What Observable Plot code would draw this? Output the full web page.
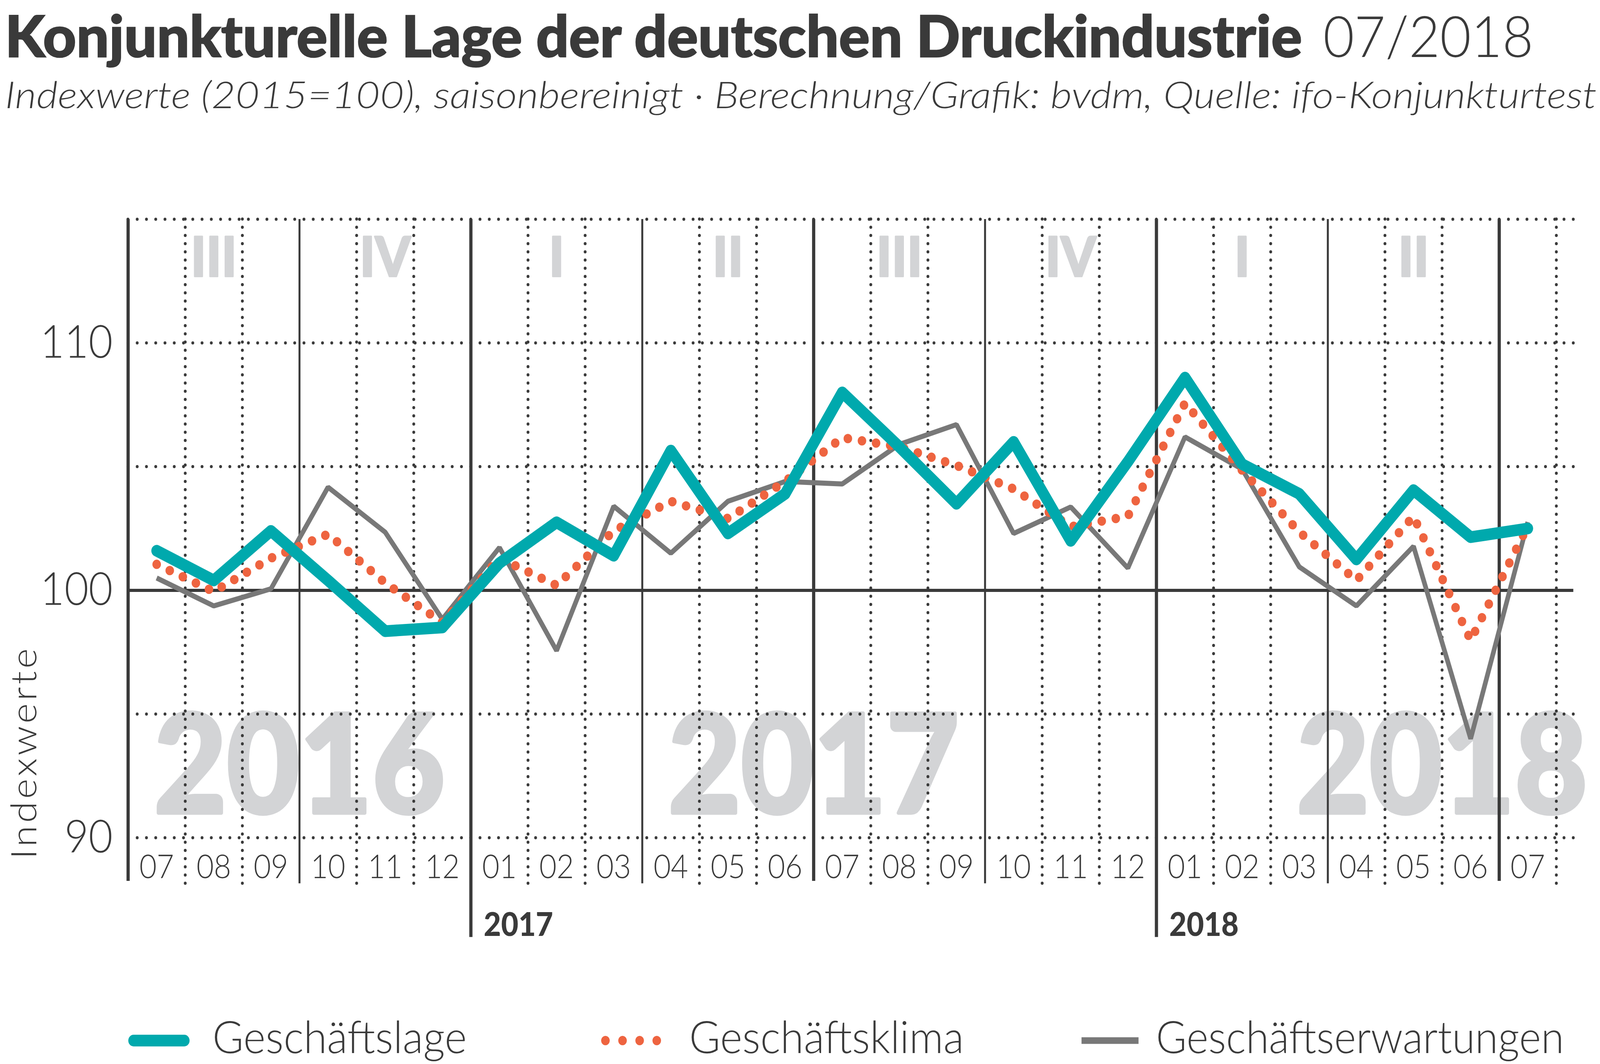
<!DOCTYPE html>
<html>
<head>
<meta charset="utf-8">
<script src="https://cdn.jsdelivr.net/npm/d3@7"></script>
<script src="https://cdn.jsdelivr.net/npm/@observablehq/plot@0.6"></script>
<style>
  html, body { margin: 0; padding: 0; background: #fff; overflow: hidden; }
  body { font-family: Lato, "Open Sans", sans-serif; }
  #page { position: absolute; left: 0; top: 0; width: 4490px; height: 2725px; transform-origin: 0 0; background: #fff; }
  .layer { position: absolute; left: 0; }
</style>
</head>
<body>
<div id="page"></div>
<script>
// ---------- data ----------
const titleText = "Konjunkturelle Lage der deutschen Druckindustrie";
const dateText = "07/2018";
const subtitleText = "Indexwerte (2015=100), saisonbereinigt · Berechnung/Grafik: bvdm, Quelle: ifo-Konjunkturtest";
const yLabel = "Indexwerte";

const months = ["07","08","09","10","11","12","01","02","03","04","05","06","07","08","09","10","11","12","01","02","03","04","05","06","07"];
const years  = [2016,2016,2016,2016,2016,2016,2017,2017,2017,2017,2017,2017,2017,2017,2017,2017,2017,2017,2018,2018,2018,2018,2018,2018,2018];

const geschaeftslage = [101.6, 100.4, 102.4, 100.4, 98.35, 98.5, 101.1, 102.75, 101.4, 105.65, 102.3, 103.9, 108.0, 105.8, 103.5, 106.0, 102.0, 105.2, 108.6, 105.1, 103.9, 101.25, 104.05, 102.15, 102.5];
const geschaeftsklima = [101.05, 99.95, 101.3, 102.27, 100.3, 98.7, 101.3, 100.2, 102.4, 103.6, 102.9, 104.4, 106.17, 105.8, 105.05, 104.1, 102.57, 102.99, 107.57, 104.85, 102.36, 100.4, 102.99, 97.98, 102.6];
const geschaeftserwartungen = [100.5, 99.37, 100.06, 104.17, 102.35, 98.83, 101.73, 97.56, 103.4, 101.5, 103.6, 104.4, 104.3, 105.9, 106.7, 102.3, 103.37, 100.9, 106.2, 104.9, 100.95, 99.37, 101.78, 94.0, 102.76];

const quarterLabels = ["III","IV","I","II","III","IV","I","II"];
const bigYearLabels = ["2016","2017","2018"];
const bigYearCenters = [3, 12, 23];   // in month units
const yTicks = [90, 100, 110];
const yGrid = [90, 95, 105, 110, 115];

const seriesNames = ["Geschäftslage", "Geschäftsklima", "Geschäftserwartungen"];

// ---------- styles ----------
const ink = "#3a3a3a";
const teal = "#00a9ad";
const orange = "#ee6440";
const grey = "#787878";
const pale = "#d3d4d6";

// ---------- derived table ----------
const rows = months.map((m, i) => ({
  i, x: i + 0.5, m, year: years[i],
  lage: geschaeftslage[i], klima: geschaeftsklima[i], erw: geschaeftserwartungen[i]
}));
const n = rows.length;
const bounds = d3.range(0, n + 1);
const solidBounds = bounds.filter(k => k % 3 === 0 && k < n);
const thinSolid = solidBounds.filter(k => k % 6 !== 0);
const thickSolid = solidBounds.filter(k => k % 6 === 0 && !(k > 0 && rows[k] && rows[k].m === "01"));
const yearBounds = rows.filter(d => d.m === "01").map(d => ({x: d.i, year: String(d.year)}));
const dottedBounds = bounds.filter(k => k % 3 !== 0);

const page = d3.select("#page");

// ---------- header ----------
const header = page.append("svg")
  .attr("class", "layer").style("top", "0px")
  .attr("width", 4490).attr("height", 480)
  .attr("font-family", "Lato, sans-serif");
header.append("text").attr("x", 14).attr("y", 146)
  .attr("font-size", 146).attr("font-weight", 900).attr("fill", ink)
  .attr("stroke", ink).attr("stroke-width", 2.5)
  .attr("textLength", 3640).attr("lengthAdjust", "spacingAndGlyphs")
  .text(titleText);
header.append("text").attr("x", 3713).attr("y", 146)
  .attr("font-size", 146).attr("font-weight", 300).attr("fill", ink)
  .attr("textLength", 590).attr("lengthAdjust", "spacingAndGlyphs")
  .text(dateText);
header.append("text").attr("x", 14).attr("y", 277)
  .attr("font-size", 95).attr("font-weight", 300).attr("font-style", "italic").attr("fill", ink)
  .attr("textLength", 4467).attr("lengthAdjust", "spacingAndGlyphs")
  .text(subtitleText);

// ---------- chart ----------
const chart = Plot.plot({
  width: 4490,
  height: 1970,
  marginLeft: 359,
  marginRight: 123,
  marginTop: 81,
  marginBottom: 305,
  style: {fontFamily: "Lato, sans-serif", background: "transparent", color: ink, maxWidth: "none"},
  x: {type: "linear", domain: [0, n], axis: null},
  y: {type: "linear", domain: [90, 115], axis: null},
  marks: [
    Plot.text(bigYearLabels, {x: (d, i) => bigYearCenters[i], y: 91, text: d => d, lineAnchor: "bottom",
      fontSize: 352, fontWeight: 900, fill: pale, stroke: pale, strokeWidth: 9}),
    Plot.text(quarterLabels, {x: (d, q) => 3 * q + 1.5, y: 113.4, text: d => d, lineAnchor: "middle",
      fontSize: 142, fontWeight: 900, fill: pale, stroke: pale, strokeWidth: 4}),
    Plot.ruleY(yGrid, {x1: 0, x2: n + 0.3, stroke: ink, strokeWidth: 8, strokeDasharray: "0 26", strokeLinecap: "round"}),
    Plot.ruleX(dottedBounds, {y1: 115, y2: 88.1, stroke: ink, strokeWidth: 8, strokeDasharray: "0 21", strokeLinecap: "round"}),
    Plot.ruleX(thinSolid, {y1: 115, y2: 88.15, stroke: ink, strokeWidth: 5.5}),
    Plot.ruleX(thickSolid, {y1: 115, y2: 88.25, stroke: ink, strokeWidth: 9}),
    Plot.ruleX(yearBounds, {x: "x", y1: 115, y2: 85.98, stroke: ink, strokeWidth: 9}),
    Plot.ruleY([100], {x1: 0, x2: n + 0.3, stroke: ink, strokeWidth: 8}),
    Plot.line(rows, {x: "x", y: "erw", stroke: grey, strokeWidth: 13, strokeLinejoin: "miter", strokeLinecap: "butt"}),
    Plot.line(rows, {x: "x", y: "klima", stroke: orange, strokeWidth: 24, strokeDasharray: "0 40", strokeLinecap: "round", strokeLinejoin: "round"}),
    Plot.line(rows, {x: "x", y: "lage", stroke: teal, strokeWidth: 30, strokeLinejoin: "round", strokeLinecap: "round"}),
    Plot.text(rows, {x: "x", y: 90, text: "m", dy: 103, lineAnchor: "bottom", fontSize: 84, fontWeight: 300, fill: ink}),
    Plot.text(yearBounds, {x: "x", y: 90, text: "year", dx: 36, dy: 251, textAnchor: "start", lineAnchor: "bottom",
      fontSize: 84, fontWeight: 900, fill: ink}),
    Plot.axisY(yTicks, {tickSize: 0, tickPadding: 43, fontSize: 117, fontWeight: 300, color: ink, label: null,
      tickFormat: d => String(d)}),
    Plot.text([yLabel], {frameAnchor: "left", y: 90, dx: -258, dy: 55, rotate: -90, text: d => d,
      textAnchor: "start", lineAnchor: "bottom", fontSize: 99, fontWeight: 300, fill: ink})
  ]
});
d3.select(chart).attr("class", "layer").style("top", "480px");
d3.select(chart).selectAll("text").filter(function() { return this.textContent === yLabel; })
  .attr("textLength", 540).attr("lengthAdjust", "spacing");
page.node().appendChild(chart);

// ---------- legend ----------
const legend = page.append("svg")
  .attr("class", "layer").style("top", "2450px")
  .attr("width", 4490).attr("height", 275)
  .attr("font-family", "Lato, sans-serif");
const ly = 215;
legend.append("line").attr("x1", 375).attr("x2", 517).attr("y1", ly).attr("y2", ly)
  .attr("stroke", teal).attr("stroke-width", 30).attr("stroke-linecap", "round");
legend.append("line").attr("x1", 1699).attr("x2", 1860).attr("y1", ly).attr("y2", ly)
  .attr("stroke", orange).attr("stroke-width", 24).attr("stroke-linecap", "round").attr("stroke-dasharray", "0 48");
legend.append("line").attr("x1", 3035).attr("x2", 3195).attr("y1", ly).attr("y2", ly)
  .attr("stroke", grey).attr("stroke-width", 17);
const legendX = [596, 1934, 3244];
const legendW = [714, 771, 1145];
seriesNames.forEach((s, i) => {
  legend.append("text").attr("x", legendX[i]).attr("y", 247)
    .attr("font-size", 114).attr("font-weight", 300).attr("fill", ink)
    .attr("textLength", legendW[i]).attr("lengthAdjust", "spacingAndGlyphs")
    .text(s);
});

// ---------- fit to window ----------
function fit() {
  const W = window.innerWidth || 4490, H = window.innerHeight || 2725;
  document.getElementById("page").style.transform = `scale(${W / 4490}, ${H / 2725})`;
}
fit();
window.addEventListener("resize", fit);
</script>
</body>
</html>
